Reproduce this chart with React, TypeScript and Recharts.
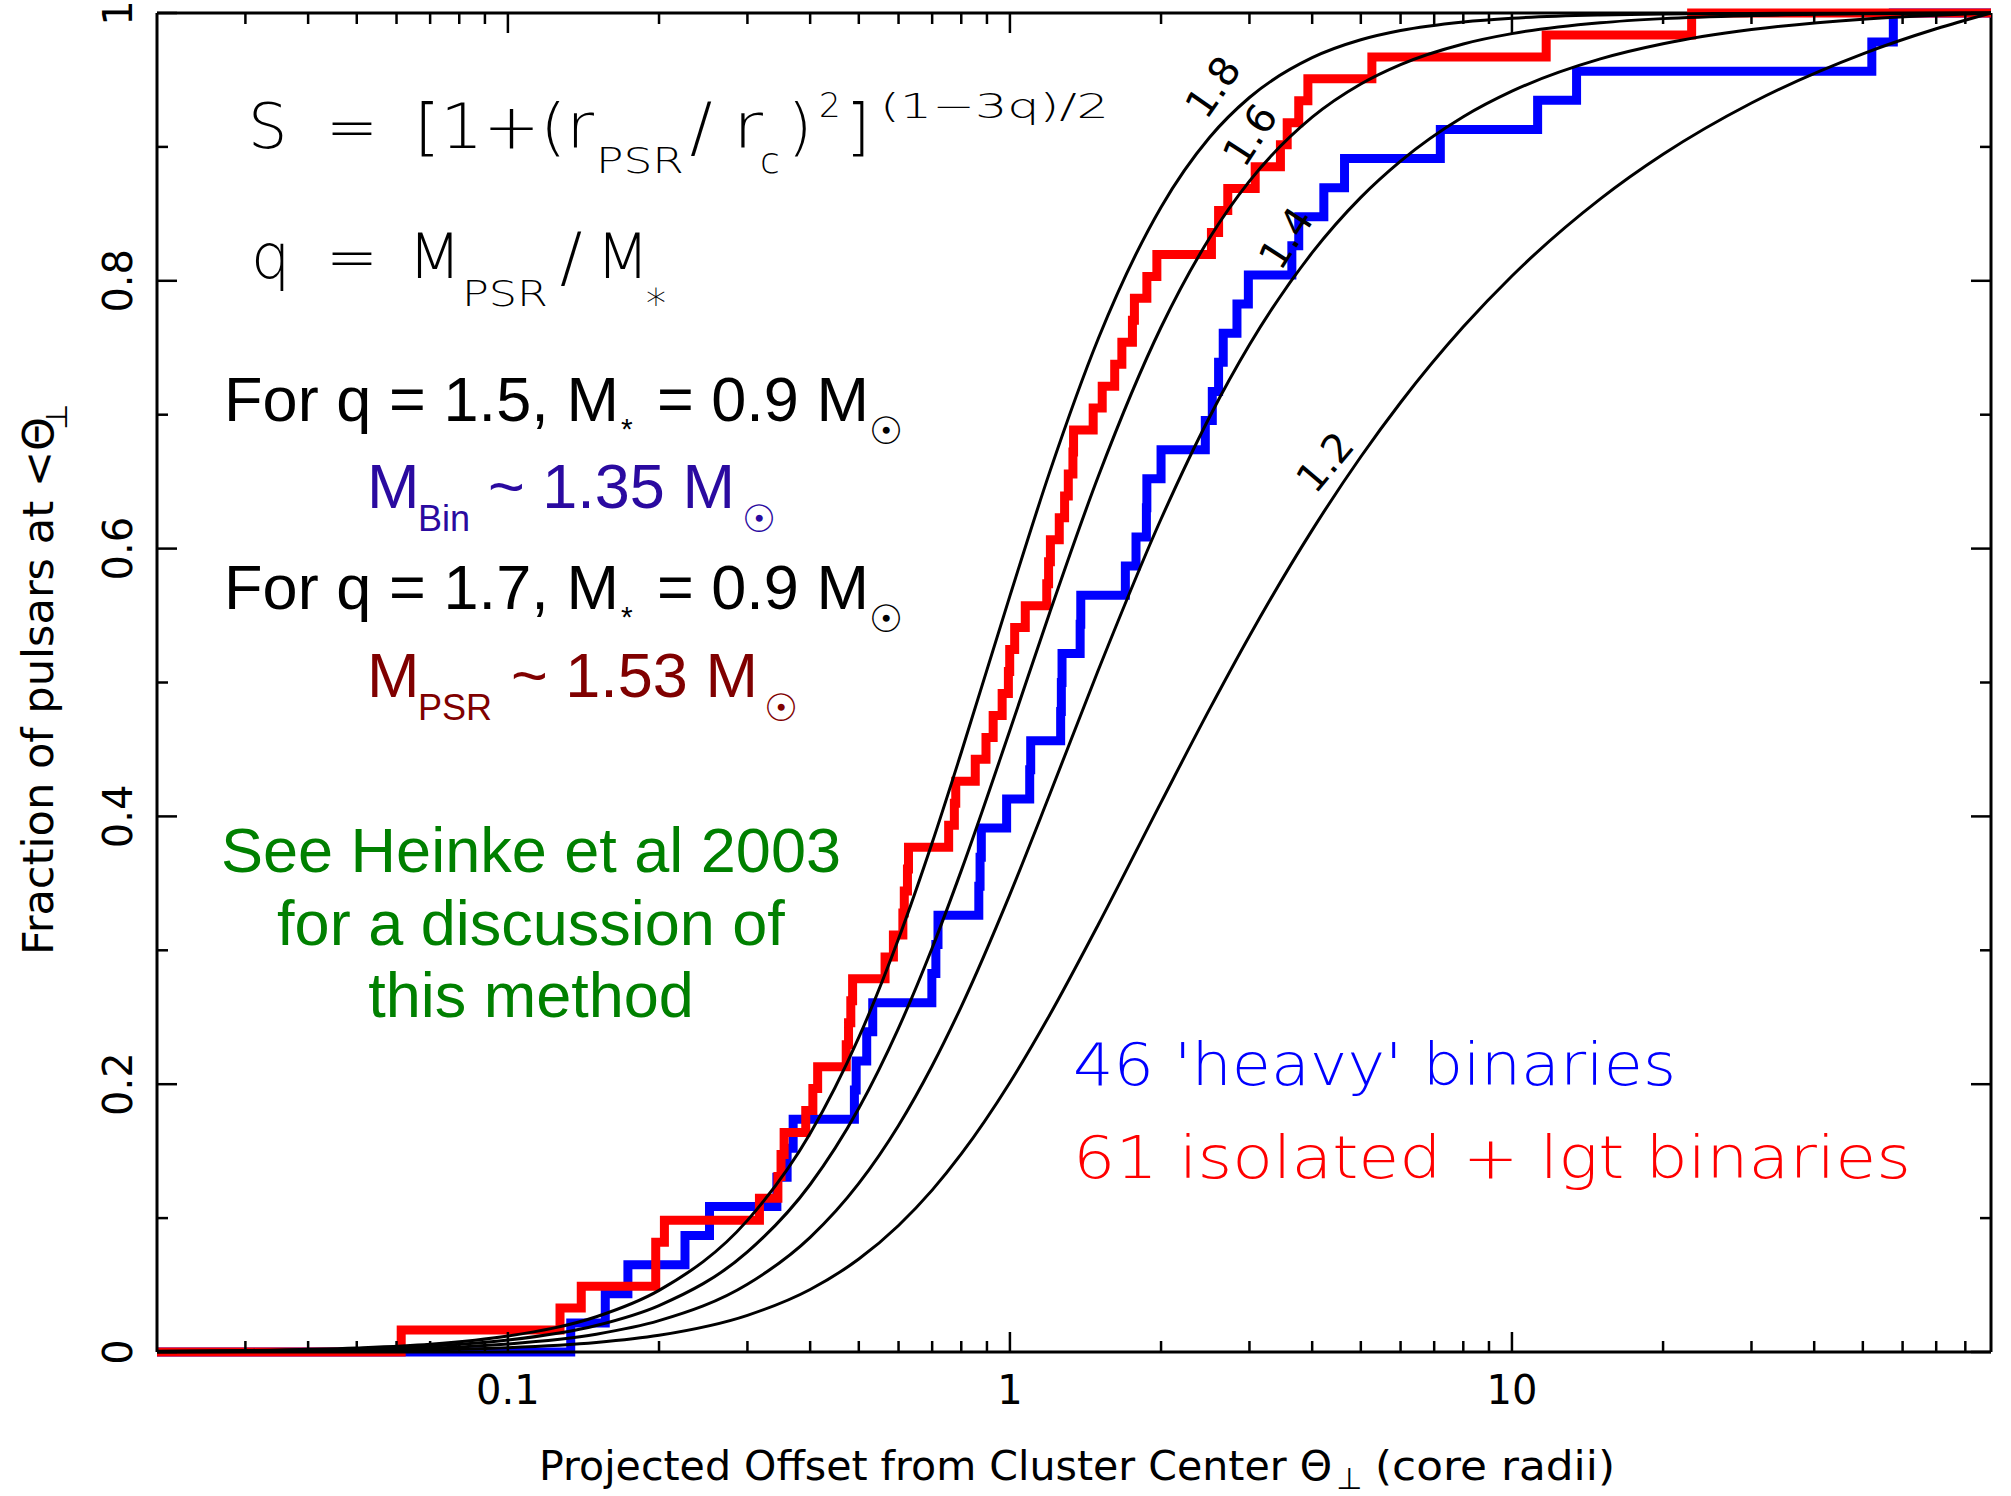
import React from 'react'
import { LineChart, Line, XAxis, YAxis, ReferenceLine } from 'recharts'

// ── Canvas / plot box ──────────────────────────────────────────────────────
const W = 2011
const H = 1496
const BOX = { left: 157, top: 13, right: 1991, bottom: 1352 }

const PG_FONT = "'DejaVu Sans', sans-serif"
const PPT_FONT = "'Liberation Sans', Arial, sans-serif"

// ── Axis ticks ─────────────────────────────────────────────────────────────
const X_MAJOR = [0.1, 1, 10]
const X_MINOR = [
  0.03, 0.04, 0.05, 0.06, 0.07, 0.08, 0.09,
  0.2, 0.3, 0.4, 0.5, 0.6, 0.7, 0.8, 0.9,
  2, 3, 4, 5, 6, 7, 8, 9,
  20, 30, 40, 50, 60, 70, 80,
]
const Y_MAJOR = [0, 0.2, 0.4, 0.6, 0.8, 1]
const Y_MINOR = [0.1, 0.3, 0.5, 0.7, 0.9]

// ── Observed pulsars: step positions (core radii) and cumulative counts ───
const RED_TOTAL = 61
const RED_X = [
  0.02, 0.0613, 0.127, 0.14, 0.197, 0.205, 0.317, 0.345, 0.35, 0.355,
  0.392, 0.405, 0.414, 0.472, 0.477, 0.482, 0.486, 0.564, 0.586, 0.612,
  0.616, 0.625, 0.628, 0.755, 0.775, 0.78, 0.853, 0.896, 0.926, 0.965,
  0.993, 0.999, 1.022, 1.073, 1.184, 1.194, 1.204, 1.254, 1.285, 1.307,
  1.335, 1.339, 1.465, 1.527, 1.617, 1.671, 1.754, 1.77, 1.874, 1.962,
  2.52, 2.604, 2.716, 3.08, 3.458, 3.567, 3.761, 3.922, 5.26, 11.7,
  22.8, 90,
]
const RED_N = [
  0, 1, 2, 3, 5, 6, 7, 8, 9, 10,
  11, 12, 13, 14, 15, 16, 17, 18, 19, 20,
  21, 22, 23, 24, 25, 26, 27, 28, 29, 30,
  31, 32, 33, 34, 35, 36, 37, 38, 39, 40,
  41, 42, 43, 44, 45, 46, 47, 48, 49, 50,
  51, 52, 53, 54, 55, 56, 57, 58, 59, 60,
  61, 61,
]

const BLUE_TOTAL = 46
const BLUE_X = [
  0.02, 0.1334, 0.1563, 0.1734, 0.2253, 0.2521, 0.3434, 0.3599, 0.37, 0.49,
  0.494, 0.5185, 0.533, 0.699, 0.712, 0.719, 0.867, 0.872, 0.877, 0.985,
  1.095, 1.1, 1.262, 1.266, 1.27, 1.38, 1.384, 1.698, 1.783, 1.87,
  1.874, 2.0, 2.45, 2.53, 2.604, 2.66, 2.833, 2.985, 3.644, 3.761,
  4.22, 4.64, 7.2, 11.25, 13.45, 52.1, 57.5, 90,
]
const BLUE_N = [
  0, 1, 2, 3, 4, 5, 6, 7, 8, 9,
  10, 11, 12, 13, 14, 15, 16, 17, 18, 19,
  20, 21, 22, 23, 24, 25, 26, 27, 28, 29,
  30, 31, 32, 33, 34, 35, 36, 37, 38, 39,
  40, 41, 42, 43, 44, 45, 46, 46,
]

// ── Model curves ───────────────────────────────────────────────────────────
const MODEL_X = [
  0.02, 0.03, 0.05, 0.07, 0.1, 0.15, 0.2, 0.3, 0.4, 0.5,
  0.6, 0.7, 0.8, 1.0, 1.2, 1.5, 2, 2.5, 3, 4,
  5, 6, 8, 10, 15, 20, 30, 50, 70, 90,
]
const Q12 = [
  0.0001, 0.0003, 0.0008, 0.0016, 0.0032, 0.0071, 0.0125, 0.0274, 0.0467, 0.0694,
  0.0945, 0.1209, 0.1479, 0.2013, 0.2517, 0.3193, 0.4105, 0.4803, 0.5348, 0.6138,
  0.6686, 0.7091, 0.7656, 0.8036, 0.8612, 0.8945, 0.9328, 0.9695, 0.9882, 1.0,
]
const Q14 = [
  0.0002, 0.0005, 0.0015, 0.0029, 0.006, 0.0133, 0.0234, 0.0506, 0.0856, 0.1259,
  0.1692, 0.2138, 0.258, 0.3418, 0.4163, 0.5093, 0.6221, 0.6985, 0.7522, 0.821,
  0.8623, 0.8894, 0.9225, 0.9416, 0.9657, 0.977, 0.9876, 0.9954, 0.9984, 1.0,
]
const Q16 = [
  0.0004, 0.0008, 0.0022, 0.0044, 0.0089, 0.0198, 0.0347, 0.0747, 0.1251, 0.182,
  0.2419, 0.3017, 0.3595, 0.4643, 0.5521, 0.654, 0.7653, 0.8321, 0.8744, 0.9222,
  0.947, 0.9615, 0.9769, 0.9846, 0.9927, 0.9958, 0.9981, 0.9994, 0.9998, 1.0,
]
const Q18 = [
  0.0005, 0.0011, 0.003, 0.0058, 0.0119, 0.0263, 0.046, 0.0983, 0.1631, 0.2349,
  0.3086, 0.3803, 0.4477, 0.5647, 0.6571, 0.7569, 0.855, 0.9072, 0.9369, 0.9666,
  0.98, 0.9869, 0.9933, 0.9961, 0.9985, 0.9992, 0.9997, 0.9999, 1.0, 1.0,
]

const redData = RED_X.map((x, i) => ({ x, y: RED_N[i] / RED_TOTAL }))
const blueData = BLUE_X.map((x, i) => ({ x, y: BLUE_N[i] / BLUE_TOTAL }))
const models = [Q12, Q14, Q16, Q18].map(ys => MODEL_X.map((x, i) => ({ x, y: ys[i] })))

// ── Custom ticks: PGPLOT box, ticks inside on all four sides ───────────────
function XTick(props: any) {
  const { x, payload } = props
  const major = X_MAJOR.includes(payload.value)
  const len = major ? 20 : 11
  return (
    <g>
      <line x1={x} x2={x} y1={BOX.bottom} y2={BOX.bottom - len} stroke="#000" strokeWidth={2.5} />
      <line x1={x} x2={x} y1={BOX.top} y2={BOX.top + len} stroke="#000" strokeWidth={2.5} />
      {major && (
        <text x={x} y={1404} textAnchor="middle" fontFamily={PG_FONT}
          fontSize={40} fill="#000">
          {String(payload.value)}
        </text>
      )}
    </g>
  )
}

function YTick(props: any) {
  const { y, payload } = props
  const major = Y_MAJOR.includes(payload.value)
  const len = major ? 20 : 11
  return (
    <g>
      <line x1={BOX.left} x2={BOX.left + len} y1={y} y2={y} stroke="#000" strokeWidth={2.5} />
      <line x1={BOX.right} x2={BOX.right - len} y1={y} y2={y} stroke="#000" strokeWidth={2.5} />
      {major && (
        <text x={132} y={y} transform={`rotate(-90 132 ${y})`} textAnchor="middle"
          fontFamily={PG_FONT} fontSize={40} fill="#000">
          {String(payload.value)}
        </text>
      )}
    </g>
  )
}

// ── Text annotations (pixel positions) ─────────────────────────────────────
type Seg = { t: string; x: number; y: number; fs: number; w?: number }

const FORMULA: Seg[] = [
  { t: 'S', x: 248, y: 148, fs: 62 },
  { t: '=', x: 326, y: 148, fs: 62 },
  { t: '[1+(r', x: 414, y: 148, fs: 62, w: 180 },
  { t: 'PSR', x: 596, y: 173, fs: 36, w: 88 },
  { t: '/', x: 690, y: 150, fs: 66 },
  { t: 'r', x: 733, y: 148, fs: 62, w: 30 },
  { t: 'c', x: 760, y: 173, fs: 36 },
  { t: ')', x: 788, y: 148, fs: 62 },
  { t: '2', x: 819, y: 117, fs: 34 },
  { t: ']', x: 846, y: 148, fs: 62 },
  { t: '(1\u22123q)/2', x: 880, y: 118, fs: 34, w: 229 },
  { t: 'q', x: 251, y: 278, fs: 62 },
  { t: '=', x: 326, y: 278, fs: 62 },
  { t: 'M', x: 408, y: 278, fs: 62 },
  { t: 'PSR', x: 462, y: 306, fs: 36, w: 86 },
  { t: '/', x: 560, y: 280, fs: 66 },
  { t: 'M', x: 596, y: 278, fs: 62 },
  { t: '*', x: 646, y: 318, fs: 40 },
]

const CURVE_LABELS = [
  { t: '1.8', x: 1213, y: 87, r: -55 },
  { t: '1.6', x: 1250, y: 135, r: -57 },
  { t: '1.4', x: 1286, y: 238, r: -57 },
  { t: '1.2', x: 1325, y: 462, r: -50 },
]

const SUN = '\u2609'

function MassLine({ q, y }: { q: string; y: number }) {
  return (
    <g fontFamily={PPT_FONT} fill="#000">
      <text x={224} y={y} fontSize={63} textLength={395} lengthAdjust="spacing">For q = {q}, M</text>
      <text x={621} y={y + 18} fontSize={30}>*</text>
      <text x={657} y={y} fontSize={63}>= 0.9 M</text>
      <text x={869} y={y + 23} fontSize={38} fontFamily={PG_FONT}>{SUN}</text>
    </g>
  )
}

function Annotations() {
  return (
    <svg width={W} height={H} style={{ position: 'absolute', left: 0, top: 0, pointerEvents: 'none' }}>
      {/* density formula */}
      <g fontFamily={PG_FONT} fontWeight={200} fill="#000">
        {FORMULA.map((s, i) => (
          <text key={i} x={s.x} y={s.y} fontSize={s.fs}
            {...(s.w ? { textLength: s.w, lengthAdjust: 'spacingAndGlyphs' } : {})}>
            {s.t}
          </text>
        ))}
      </g>

      <MassLine q="1.5" y={421} />
      <g fontFamily={PPT_FONT} fill="#2a0aa0">
        <text x={367} y={508} fontSize={63}>M</text>
        <text x={418} y={531} fontSize={36}>Bin</text>
        <text x={488} y={508} fontSize={63}>~ 1.35 M</text>
        <text x={742} y={532} fontSize={38} fontFamily={PG_FONT}>{SUN}</text>
      </g>
      <MassLine q="1.7" y={609} />
      <g fontFamily={PPT_FONT} fill="#800000">
        <text x={367} y={697} fontSize={63}>M</text>
        <text x={418} y={720} fontSize={36}>PSR</text>
        <text x={511} y={697} fontSize={63}>~ 1.53 M</text>
        <text x={764} y={721} fontSize={38} fontFamily={PG_FONT}>{SUN}</text>
      </g>

      <g fontFamily={PPT_FONT} fill="#008000" fontSize={63} textAnchor="middle">
        <text x={531} y={872}>See Heinke et al 2003</text>
        <text x={531} y={945}>for a discussion of</text>
        <text x={531} y={1017}>this method</text>
      </g>

      <g fontFamily={PG_FONT} fontWeight={200} fontSize={58}>
        <text x={1073} y={1085} fill="#0000ff" textLength={603} lengthAdjust="spacingAndGlyphs">
          46 'heavy' binaries
        </text>
        <text x={1073} y={1178} fill="#ff0000" textLength={838} lengthAdjust="spacingAndGlyphs">
          61 isolated + lgt binaries
        </text>
      </g>

      {/* q labels along the model curves */}
      <g fontFamily={PG_FONT} fontSize={40} fill="#000">
        {CURVE_LABELS.map(l => (
          <text key={l.t} x={l.x} y={l.y} textAnchor="middle" dominantBaseline="central"
            transform={`rotate(${l.r} ${l.x} ${l.y})`}>
            {l.t}
          </text>
        ))}
      </g>

      {/* axis titles */}
      <g fontFamily={PG_FONT} fill="#000">
        <text x={539} y={1480} fontSize={40} textLength={793} lengthAdjust="spacingAndGlyphs">
          Projected Offset from Cluster Center {'\u0398'}
        </text>
        <text x={1336} y={1489} fontSize={30}>{'\u22A5'}</text>
        <text x={1375} y={1480} fontSize={40} textLength={240} lengthAdjust="spacingAndGlyphs">
          (core radii)
        </text>
        <g transform="rotate(-90)">
          <text x={-955} y={53} fontSize={42} textLength={538} lengthAdjust="spacingAndGlyphs">
            Fraction of pulsars at &lt;{'\u0398'}
          </text>
          <text x={-430} y={67} fontSize={30}>{'\u22A5'}</text>
        </g>
      </g>
    </svg>
  )
}

// ── Main component ─────────────────────────────────────────────────────────
export default function App() {
  return (
    <div style={{ position: 'absolute', left: 0, top: 0, width: W, height: H, background: '#fff' }}>
      <LineChart
        width={W}
        height={H}
        margin={{ top: BOX.top, right: W - BOX.right, bottom: 0, left: 0 }}
      >
        <XAxis
          dataKey="x"
          type="number"
          scale="log"
          domain={[0.02, 90]}
          ticks={[...X_MAJOR, ...X_MINOR]}
          interval={0}
          height={H - BOX.bottom}
          tick={<XTick />}
          tickLine={false}
          tickSize={0}
          tickMargin={0}
          axisLine={{ stroke: '#000', strokeWidth: 3 }}
        />
        <YAxis
          type="number"
          domain={[0, 1]}
          ticks={[...Y_MAJOR, ...Y_MINOR]}
          interval={0}
          width={BOX.left}
          tick={<YTick />}
          tickLine={false}
          tickSize={0}
          tickMargin={0}
          axisLine={{ stroke: '#000', strokeWidth: 3 }}
        />
        <ReferenceLine y={1} stroke="#000" strokeWidth={3} />
        <ReferenceLine x={90} stroke="#000" strokeWidth={3} />

        <Line data={blueData} dataKey="y" type="stepAfter" stroke="#0000ff" strokeWidth={9}
          dot={false} isAnimationActive={false} />
        <Line data={redData} dataKey="y" type="stepAfter" stroke="#ff0000" strokeWidth={9}
          dot={false} isAnimationActive={false} />
        {models.map((d, i) => (
          <Line key={i} data={d} dataKey="y" type="monotone" stroke="#000" strokeWidth={3}
            dot={false} isAnimationActive={false} />
        ))}
      </LineChart>
      <Annotations />
    </div>
  )
}
